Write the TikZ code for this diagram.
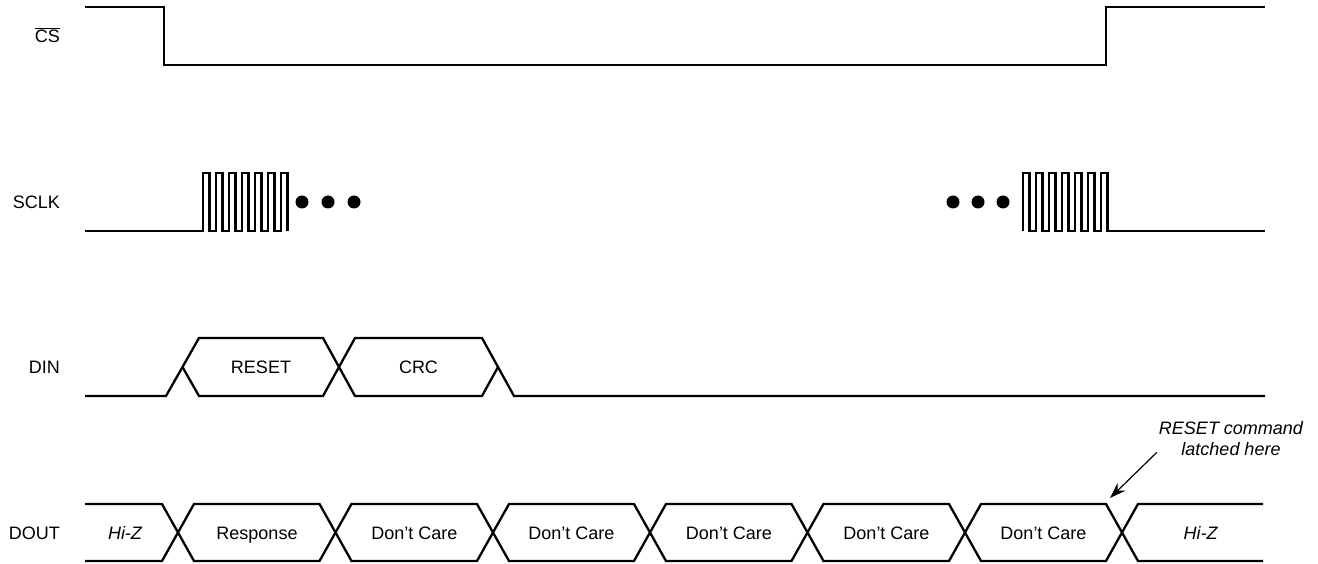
\documentclass[tikz,border=0pt]{standalone}
\usepackage{fontspec}
\setmainfont{Liberation Sans}
\usetikzlibrary{arrows.meta}

\begin{document}
\begin{tikzpicture}[
  x=1pt, y=-1pt,
  font=\fontsize{18}{21}\selectfont,
  wave/.style={line width=2.3pt, line join=miter},
  sig/.style={anchor=base east, inner sep=0pt},
  lbl/.style={anchor=base, inner sep=0pt},
  hiz/.style={anchor=base, inner sep=0pt, font=\fontsize{18}{21}\selectfont\itshape},
  note/.style={anchor=base, inner sep=0pt, align=center,
               font=\fontsize{18}{21}\selectfont\itshape},
  >={Stealth[length=16pt, width=11pt]}
]
\useasboundingbox (0,0) rectangle (1318,564);

% Signal names
\node[sig] (cs)   at (60,42.5)  {$\overline{\mbox{CS}}$};
\node[sig] (sclk) at (60,208.5) {SCLK};
\node[sig] (din)  at (60,373.5) {DIN};
\node[sig] (dout) at (60,539)   {DOUT};

% Chip select
\draw[wave] (85,7) -- (164,7) -- (164,65) -- (1106,65) -- (1106,7) -- (1265,7);

% Clock bursts
\draw[wave] (85,231) -- (203,231) -- ++(0,-58) -- ++(6.5,0) -- ++(0,58)
  foreach \i in {1,...,6} { -- ++(6.5,0) -- ++(0,-58) -- ++(6.5,0) -- ++(0,58) };
\draw[wave] (1023,231) -- ++(0,-58) -- ++(6.5,0) -- ++(0,58)
  foreach \i in {1,...,6} { -- ++(6.5,0) -- ++(0,-58) -- ++(6.5,0) -- ++(0,58) }
  -- (1265,231);
\fill (302,202) circle (6.5) (328,202) circle (6.5) (354,202) circle (6.5);
\fill (953,202) circle (6.5) (978,202) circle (6.5) (1003,202) circle (6.5);

% Data in
\draw[wave] (85,396) -- (166,396) -- (199,338) -- (323,338) -- (355,396)
  -- (482,396) -- (498,367);
\draw[wave] (182.5,367) -- (199,396) -- (323,396) -- (355,338) -- (482,338)
  -- (514,396) -- (1265,396);
\node[lbl] (reset) at (261,373.5)   {RESET};
\node[lbl] (crc)   at (418.5,373.5) {CRC};

% Data out
\draw[wave] (85,504) -- (162,504) -- (194,561) -- (319.5,561) -- (351.5,504)
  -- (477,504) -- (509,561) -- (634,561) -- (666,504) -- (791.5,504)
  -- (823.5,561) -- (949,561) -- (981,504) -- (1106,504) -- (1138,561) -- (1263,561);
\draw[wave] (85,561) -- (162,561) -- (194,504) -- (319.5,504) -- (351.5,561)
  -- (477,561) -- (509,504) -- (634,504) -- (666,561) -- (791.5,561)
  -- (823.5,504) -- (949,504) -- (981,561) -- (1106,561) -- (1138,504) -- (1263,504);
\node[hiz] (hiz1) at (125,539)    {Hi-Z};
\node[lbl] (resp) at (257,539)    {Response};
\node[lbl] (dc1)  at (414.5,539)  {Don’t Care};
\node[lbl] (dc2)  at (571.5,539)  {Don’t Care};
\node[lbl] (dc3)  at (729,539)    {Don’t Care};
\node[lbl] (dc4)  at (886.5,539)  {Don’t Care};
\node[lbl] (dc5)  at (1043.5,539) {Don’t Care};
\node[hiz] (hiz2) at (1200.5,539) {Hi-Z};

% Latch note
\node[note] (latchnote) at (1231,455) {RESET command\\latched here};
\coordinate (latch) at (1110,498);
\draw[->, line width=1.2pt] (latchnote.south west) ++(-2,-3) -- (latch);
\end{tikzpicture}
\end{document}
